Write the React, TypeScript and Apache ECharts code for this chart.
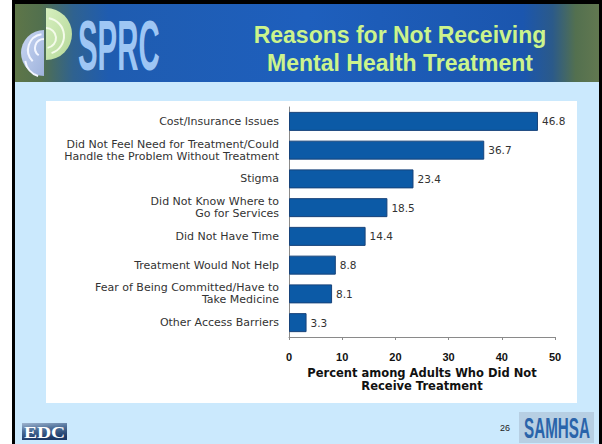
import React, { useEffect, useRef } from "react";
import * as echarts from "echarts";

const categories = [
  "Cost/Insurance Issues",
  "Did Not Feel Need for Treatment/Could\nHandle the Problem Without Treatment",
  "Stigma",
  "Did Not Know Where to\nGo for Services",
  "Did Not Have Time",
  "Treatment Would Not Help",
  "Fear of Being Committed/Have to\nTake Medicine",
  "Other Access Barriers",
];
const values = [46.8, 36.7, 23.4, 18.5, 14.4, 8.8, 8.1, 3.3];
const titleLines = ["Reasons for Not Receiving", "Mental Health Treatment"];
const xAxisName = "Percent among Adults Who Did Not\nReceive Treatment";
const pageNumber = "26";

const FONT = "Liberation Sans, Arial, Helvetica, sans-serif";
const WIDE = "DejaVu Sans, Verdana, sans-serif";

function txt(x: number, y: number, text: string, o: any = {}) {
  const { align = "left", vAlign = "middle", fontSize = 12, fontWeight = "normal", fill = "#000", fontFamily = FONT, scaleX = 1, scaleY = 1, z = 2 } = o;
  return {
    type: "text",
    x,
    y,
    scaleX,
    scaleY,
    z,
    silent: true,
    style: {
      text,
      x: 0,
      y: 0,
      fill,
      fontSize,
      fontWeight,
      fontFamily,
      align,
      verticalAlign: vAlign,
      textAlign: align,
      textVerticalAlign: vAlign,
    },
  };
}

export default function App() {
  const ref = useRef<HTMLDivElement>(null);
  useEffect(() => {
    if (!ref.current) return;
    const chart = echarts.init(ref.current, null, { renderer: "svg" });
    const graphics: any[] = [
      // body background
      { type: "rect", z: 0, silent: true, shape: { x: 15, y: 82, width: 584, height: 362 }, style: { fill: "#cbe9fd" } },
      // header gradient
      {
        type: "rect", z: 0, silent: true,
        shape: { x: 15, y: 4, width: 584, height: 78 },
        style: {
          fill: {
            type: "linear", x: 0, y: 0, x2: 1, y2: 0,
            colorStops: [
              { offset: 0, color: "#5e7648" },
              { offset: 0.045, color: "#52704e" },
              { offset: 0.1, color: "#2f6290" },
              { offset: 0.16, color: "#1f5cb0" },
              { offset: 0.5, color: "#1e5fbd" },
              { offset: 0.87, color: "#1b56ae" },
              { offset: 0.92, color: "#2b5a8a" },
              { offset: 0.96, color: "#53704f" },
              { offset: 1, color: "#627850" },
            ],
          },
        },
      },
      // white panel
      { type: "rect", z: 0, silent: true, shape: { x: 46, y: 101, width: 531, height: 302 }, style: { fill: "#ffffff" } },
      // borders
      { type: "rect", z: 1, silent: true, shape: { x: 12, y: 0, width: 3, height: 444 }, style: { fill: "#000" } },
      { type: "rect", z: 1, silent: true, shape: { x: 12, y: 0, width: 590, height: 4 }, style: { fill: "#000" } },
      { type: "rect", z: 1, silent: true, shape: { x: 599, y: 0, width: 3, height: 444 }, style: { fill: "#000" } },
      // SPRC logo halves
      {
        type: "sector", z: 1, silent: true,
        shape: { cx: 44, cy: 53, r: 23, r0: 0, startAngle: Math.PI / 2, endAngle: (3 * Math.PI) / 2, clockwise: true },
        style: { fill: { type: "linear", x: 0, y: 0, x2: 1, y2: 1, colorStops: [{ offset: 0, color: "#c8d6f2" }, { offset: 1, color: "#9fb3dc" }] } },
      },
      {
        type: "sector", z: 1, silent: true,
        shape: { cx: 46, cy: 34, r: 26, r0: 0, startAngle: -Math.PI / 2, endAngle: Math.PI / 2, clockwise: true },
        style: { fill: { type: "linear", x: 0, y: 0, x2: 1, y2: 1, colorStops: [{ offset: 0, color: "#d6efbe" }, { offset: 1, color: "#b5d89a" }] } },
      },
      { type: "arc", z: 2, silent: true, shape: { cx: 44, cy: 50, r: 16, startAngle: Math.PI * 0.75, endAngle: Math.PI * 1.45, clockwise: true }, style: { stroke: "#f2f6ff", lineWidth: 2, fill: "none" } },
      { type: "arc", z: 2, silent: true, shape: { cx: 44, cy: 48, r: 9, startAngle: Math.PI * 0.7, endAngle: Math.PI * 1.5, clockwise: true }, style: { stroke: "#f2f6ff", lineWidth: 2, fill: "none" } },
      { type: "arc", z: 2, silent: true, shape: { cx: 44, cy: 58, r: 19, startAngle: Math.PI * 0.6, endAngle: Math.PI * 0.95, clockwise: true }, style: { stroke: "#f2f6ff", lineWidth: 2, fill: "none" } },
      { type: "arc", z: 2, silent: true, shape: { cx: 46, cy: 36, r: 18, startAngle: -Math.PI * 0.45, endAngle: Math.PI * 0.4, clockwise: true }, style: { stroke: "#f4fbea", lineWidth: 2, fill: "none" } },
      { type: "arc", z: 2, silent: true, shape: { cx: 46, cy: 38, r: 10, startAngle: -Math.PI * 0.5, endAngle: Math.PI * 0.45, clockwise: true }, style: { stroke: "#f4fbea", lineWidth: 2, fill: "none" } },
      txt(78, 45, "SPRC", { fontSize: 70, fontWeight: "bold", fill: "#9ec6f4", scaleX: 0.42 }),
      // title
      txt(400, 35, titleLines[0], { align: "center", fontSize: 23, fontWeight: "bold", fill: "#ccf48c" }),
      txt(400, 63, titleLines[1], { align: "center", fontSize: 23, fontWeight: "bold", fill: "#ccf48c" }),
      // EDC logo
      {
        type: "rect", z: 1, silent: true,
        shape: { x: 22, y: 423, width: 45, height: 17 },
        style: { fill: { type: "linear", x: 0, y: 0, x2: 0.3, y2: 1, colorStops: [{ offset: 0, color: "#9fb5cf" }, { offset: 0.45, color: "#4d6f99" }, { offset: 1, color: "#1b3866" }] } },
      },
      txt(44.5, 432, "EDC", { align: "center", fontSize: 17, fontWeight: "bold", fill: "#ffffff", fontFamily: "Liberation Serif, DejaVu Serif, serif", scaleX: 1.15 }),
      // page number
      txt(505, 428, pageNumber, { align: "center", fontSize: 9, fill: "#222" }),
      // SAMHSA logo
      { type: "rect", z: 1, silent: true, shape: { x: 519, y: 412, width: 75, height: 31 }, style: { fill: "#b7cfe3" } },
      txt(557, 428, "SAMHSA", { align: "center", fontSize: 19, fontWeight: "bold", fill: "#2a64aa", scaleX: 0.8, scaleY: 1.55 }),
    ];

    chart.setOption({
      animation: false,
      backgroundColor: "#ffffff",
      graphic: { elements: graphics },
      grid: { left: 289, right: 47, top: 107, bottom: 107, containLabel: false },
      xAxis: {
        type: "value",
        min: 0,
        max: 50,
        interval: 10,
        z: 10,
        splitLine: { show: false },
        axisLine: { show: true, lineStyle: { color: "#8a8a8a", width: 1 } },
        axisTick: { show: true, length: 3, lineStyle: { color: "#8a8a8a" } },
        axisLabel: { fontSize: 11, fontWeight: "bold", color: "#111", fontFamily: FONT, margin: 14 },
        name: xAxisName,
        nameLocation: "middle",
        nameGap: 26,
        nameTextStyle: { fontSize: 11.5, fontWeight: "bold", color: "#111", fontFamily: WIDE, lineHeight: 13, verticalAlign: "top" },
      },
      yAxis: {
        type: "category",
        data: categories,
        inverse: true,
        z: 10,
        axisLine: { show: true, lineStyle: { color: "#8a8a8a", width: 1 } },
        axisTick: { show: false },
        axisLabel: { fontSize: 11, color: "#333", fontFamily: WIDE, lineHeight: 12, margin: 10 },
      },
      series: [
        {
          type: "bar",
          data: values,
          barWidth: 19,
          z: 11,
          itemStyle: { color: "#0c5aa6", borderColor: "#17437a", borderWidth: 1 },
          label: { show: true, position: "right", distance: 4, fontSize: 10.5, color: "#333", fontFamily: WIDE },
        },
      ],
    });
    return () => chart.dispose();
  }, []);
  return <div ref={ref} style={{ position: "fixed", left: 0, top: 0, width: 602, height: 444 }} />;
}
